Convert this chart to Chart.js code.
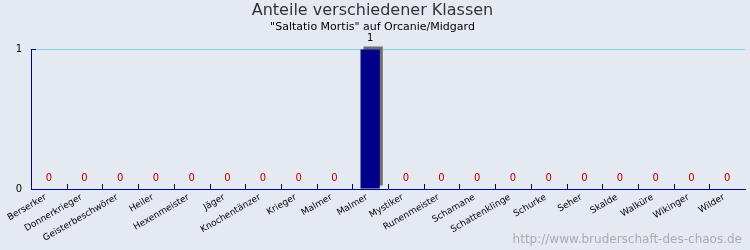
<!DOCTYPE html>
<html>
<head>
<meta charset="utf-8">
<script src="https://cdn.jsdelivr.net/npm/chart.js@4.4.1/dist/chart.umd.min.js"></script>
<style>
  html, body { margin: 0; padding: 0; background: #e5eaf2; }
  #wrap { width: 750px; height: 250px; }
</style>
</head>
<body>
<div id="wrap"><canvas id="klassenChart" width="750" height="250"></canvas></div>
<script>
const klassen = ['Berserker', 'Donnerkrieger', 'Geisterbeschwörer', 'Heiler', 'Hexenmeister',
  'Jäger', 'Knochentänzer', 'Krieger', 'Malmer', 'Malmer', 'Mystiker', 'Runenmeister',
  'Schamane', 'Schattenklinge', 'Schurke', 'Seher', 'Skalde', 'Walküre', 'Wikinger', 'Wilder'];
const anzahl = [0, 0, 0, 0, 0, 0, 0, 0, 0, 1, 0, 0, 0, 0, 0, 0, 0, 0, 0, 0];
const yTicks = [0, 1];

const titel = 'Anteile verschiedener Klassen';
const untertitel = '"Saltatio Mortis" auf Orcanie/Midgard';
const quelle = 'http://www.bruderschaft-des-chaos.de';

// background, bar shadow, inner tick marks, value labels and watermark
const extras = {
  id: 'extras',
  beforeDraw(chart) {
    const ctx = chart.ctx;
    ctx.save();
    ctx.fillStyle = '#e5eaf2';
    ctx.fillRect(0, 0, chart.width, chart.height);
    ctx.restore();
  },
  beforeDatasetsDraw(chart) {
    const ctx = chart.ctx;
    ctx.save();
    ctx.shadowColor = '#6e6e6e';
    ctx.shadowOffsetX = 3;
    ctx.shadowOffsetY = -3;
    ctx.shadowBlur = 0;
  },
  afterDatasetsDraw(chart) {
    const ctx = chart.ctx;
    ctx.restore();
    const x = chart.scales.x, y = chart.scales.y;
    const area = chart.chartArea;
    ctx.save();
    ctx.strokeStyle = '#00008b';
    ctx.lineWidth = 1;
    ctx.beginPath();
    for (let i = 1; i < klassen.length; i++) {
      const px = Math.round(x.getPixelForValue(i - 0.5)) + 0.5;
      ctx.moveTo(px, area.bottom);
      ctx.lineTo(px, area.bottom - 5);
    }
    yTicks.forEach(function(t) {
      if (t === 0) return;
      const py = Math.round(y.getPixelForValue(t)) + 0.5;
      ctx.moveTo(area.left, py);
      ctx.lineTo(area.left + 5, py);
    });
    ctx.stroke();

    ctx.font = '10px "DejaVu Sans"';
    ctx.textAlign = 'center';
    ctx.textBaseline = 'middle';
    const meta = chart.getDatasetMeta(0);
    meta.data.forEach(function(bar, i) {
      ctx.fillStyle = anzahl[i] === 0 ? '#b40000' : '#000000';
      ctx.fillText(String(anzahl[i]), bar.x, bar.y - 11);
    });

    ctx.font = '12px "DejaVu Sans"';
    ctx.fillStyle = '#ababab';
    ctx.textAlign = 'right';
    ctx.fillText(quelle, 742, 240);
    ctx.restore();
  }
};

new Chart(document.getElementById('klassenChart'), {
  type: 'bar',
  data: {
    labels: klassen,
    datasets: [{
      data: anzahl,
      backgroundColor: '#000088',
      borderWidth: 0,
      barPercentage: 0.54,
      categoryPercentage: 1,
      clip: false
    }]
  },
  options: {
    responsive: false,
    animation: false,
    layout: { padding: { left: 0, right: 5, top: 0, bottom: 0 } },
    plugins: {
      legend: { display: false },
      tooltip: { enabled: false },
      title: {
        display: true,
        text: titel,
        color: '#333333',
        font: { family: 'DejaVu Sans', size: 16, weight: 'normal' },
        padding: { top: 1, bottom: 0 }
      },
      subtitle: {
        display: true,
        text: untertitel,
        color: '#000000',
        font: { family: 'DejaVu Sans', size: 11, weight: 'normal' },
        padding: { top: 0, bottom: 16 }
      }
    },
    scales: {
      x: {
        grid: { display: false, drawTicks: false, tickLength: 0 },
        border: { display: true, color: '#00008b', width: 1 },
        ticks: {
          color: '#000000',
          font: { family: 'DejaVu Sans', size: 9 },
          minRotation: 30,
          maxRotation: 30,
          autoSkip: false,
          padding: 3,
          labelOffset: -3
        },
        afterFit(scale) { scale.height = 61; }
      },
      y: {
        min: 0,
        max: 1,
        afterBuildTicks(scale) { scale.ticks = yTicks.map(function(v) { return { value: v }; }); },
        grid: {
          drawTicks: false,
          color: function(c) { return c.tick && c.tick.value === 0 ? 'rgba(0,0,0,0)' : '#87d0e6'; }
        },
        border: { display: true, color: '#00008b', width: 1 },
        ticks: {
          color: '#000000',
          font: { family: 'DejaVu Sans', size: 10 },
          padding: 9
        },
        afterFit(scale) { scale.width = 31; }
      }
    }
  },
  plugins: [extras]
});
</script>
</body>
</html>
